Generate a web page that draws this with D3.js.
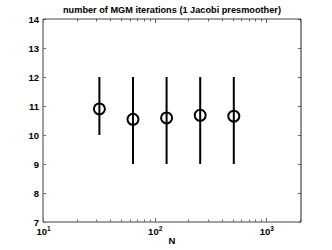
<!DOCTYPE html>
<html>
<head>
<meta charset="utf-8">
<script src="https://d3js.org/d3.v7.min.js"></script>
<style>
  body { margin: 0; padding: 0; background: #fff; overflow: hidden; }
  text { font-family: "Liberation Sans", Arial, sans-serif; font-weight: bold; fill: #000; }
</style>
</head>
<body>
<svg id="chart" width="332" height="250"></svg>
<script>
var N = [32, 64, 128, 256, 512];
var meanIter = [10.9, 10.54, 10.59, 10.68, 10.65];
var minIter = [10, 9, 9, 9, 9];
var maxIter = [12, 12, 12, 12, 12];
var yTicks = [7, 8, 9, 10, 11, 12, 13, 14];
var xDecades = [10, 100, 1000];

var width = 332, height = 250;
var margin = {top: 19, right: 31, bottom: 28, left: 43};

var svg = d3.select("#chart");

var x = d3.scaleLog().domain([10, 2048]).range([margin.left, width - margin.right]);
var y = d3.scaleLinear().domain([7, 14]).range([height - margin.bottom, margin.top]);

var x0 = margin.left, x1 = width - margin.right;
var y0 = height - margin.bottom, y1 = margin.top;

// minor log ticks
var minor = [];
[10, 100, 1000].forEach(function(d) {
  for (var k = 1; k < 10; k++) {
    var v = d * k;
    if (v <= 2048) minor.push(v);
  }
});

var ticks = svg.append("g").attr("stroke", "#666").attr("stroke-width", 1);
minor.forEach(function(v) {
  var len = xDecades.indexOf(v) >= 0 ? 4 : 2.5;
  var px = Math.round(x(v)) + 0.5;
  ticks.append("line").attr("x1", px).attr("x2", px).attr("y1", y0).attr("y2", y0 - len);
  ticks.append("line").attr("x1", px).attr("x2", px).attr("y1", y1).attr("y2", y1 + len);
});
yTicks.forEach(function(v) {
  var py = Math.round(y(v)) + 0.5;
  ticks.append("line").attr("x1", x0).attr("x2", x0 + 3).attr("y1", py).attr("y2", py);
  ticks.append("line").attr("x1", x1).attr("x2", x1 - 3).attr("y1", py).attr("y2", py);
});

// box
svg.append("line").attr("x1", x0).attr("x2", x1).attr("y1", y0).attr("y2", y0)
  .attr("stroke", "#808080").attr("stroke-width", 1.5);
svg.append("line").attr("x1", x0).attr("x2", x0).attr("y1", y0).attr("y2", y1)
  .attr("stroke", "#808080").attr("stroke-width", 1.5);
svg.append("line").attr("x1", x0).attr("x2", x1).attr("y1", y1).attr("y2", y1)
  .attr("stroke", "#444").attr("stroke-width", 1);
svg.append("line").attr("x1", x1).attr("x2", x1).attr("y1", y0).attr("y2", y1)
  .attr("stroke", "#222").attr("stroke-width", 1);

// y labels
svg.append("g").selectAll("text").data(yTicks).join("text")
  .attr("x", x0 - 4).attr("y", function(d) { return y(d) + 3.5; })
  .attr("text-anchor", "end").attr("font-size", 9.5)
  .text(function(d) { return d; });

// x labels: 10^k
var xl = svg.append("g").selectAll("text").data(xDecades).join("text")
  .attr("x", function(d) { return x(d) - 6.5; })
  .attr("y", y0 + 13)
  .attr("font-size", 9.5)
  .attr("text-anchor", "start");
xl.append("tspan").text("10");
xl.append("tspan").attr("dy", -4).attr("font-size", 6.5)
  .text(function(d) { return Math.round(Math.log10(d)); });

// error bars
var data = N.map(function(n, i) {
  return {n: n, mean: meanIter[i], lo: minIter[i], hi: maxIter[i]};
});
svg.append("g").selectAll("line").data(data).join("line")
  .attr("x1", function(d) { return x(d.n); })
  .attr("x2", function(d) { return x(d.n); })
  .attr("y1", function(d) { return y(d.lo); })
  .attr("y2", function(d) { return y(d.hi); })
  .attr("stroke", "#000").attr("stroke-width", 2);

svg.append("g").selectAll("circle").data(data).join("circle")
  .attr("cx", function(d) { return x(d.n); })
  .attr("cy", function(d) { return y(d.mean); })
  .attr("r", 5.5)
  .attr("fill", "none").attr("stroke", "#000").attr("stroke-width", 2);

// title and axis label
svg.append("text").attr("x", (x0 + x1) / 2).attr("y", 13)
  .attr("text-anchor", "middle").attr("font-size", 9.2)
  .text("number of MGM iterations (1 Jacobi presmoother)");
svg.append("text").attr("x", (x0 + x1) / 2).attr("y", 244)
  .attr("text-anchor", "middle").attr("font-size", 9.5)
  .text("N");
</script>
</body>
</html>
